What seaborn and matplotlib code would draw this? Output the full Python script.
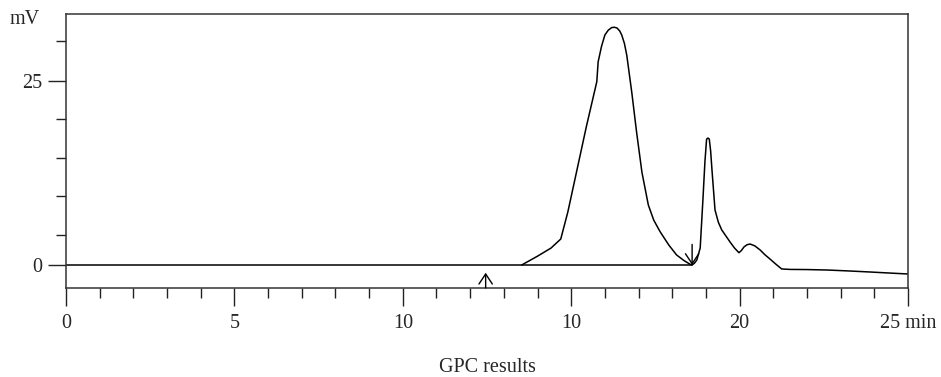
import matplotlib
matplotlib.use("Agg")
import matplotlib.pyplot as plt
from matplotlib.ticker import FixedLocator, MultipleLocator
import seaborn as sns
import pandas as pd

# retention time (min) and detector signal (mV)
time_min = [13.53, 14.0, 14.4, 14.69, 14.9, 15.16, 15.45, 15.76, 15.80, 15.9,
            16.0, 16.1, 16.2, 16.28, 16.36, 16.44, 16.50, 16.58, 16.65, 16.8,
            16.94, 17.1, 17.29, 17.45, 17.64, 17.9, 18.13, 18.35, 18.53, 18.59,
            18.66, 18.73, 18.83, 18.91, 18.97, 19.02, 19.06, 19.10, 19.14,
            19.18, 19.27, 19.37, 19.47, 19.6, 19.72, 19.85, 19.98, 20.05,
            20.13, 20.22, 20.31, 20.45, 20.61, 20.75, 20.90, 21.08, 21.25,
            21.5, 22.0, 22.59, 23.2, 23.87, 24.4, 24.99]
signal_mv = [0.0, 1.2, 2.3, 3.53, 7.2, 12.68, 18.8, 24.9, 27.6, 29.7,
             31.25, 31.9, 32.25, 32.3, 32.2, 31.8, 31.25, 30.1, 28.5, 23.4,
             18.1, 12.6, 8.15, 6.1, 4.52, 2.7, 1.36, 0.6, 0.1, 0.0,
             0.25, 0.68, 2.31, 8.8, 14.0, 17.1, 17.25, 17.1, 15.5,
             12.9, 7.47, 5.8, 4.76, 3.9, 3.1, 2.3, 1.67, 1.95,
             2.45, 2.75, 2.85, 2.6, 2.04, 1.4, 0.82, 0.1, -0.54,
             -0.6, -0.62, -0.68, -0.8, -0.95, -1.08, -1.22]

baseline_t = [0.0, 18.59]
baseline_v = [0.0, 0.0]

arrow_up_t, arrow_up_v = 12.46, [-3.12, -1.05]
arrow_down_t, arrow_down_v = 18.59, [2.8, 0.0]

x_major = [0, 5, 10, 15, 20, 25]
x_labels = ["0", "5", "10", "10", "20", "25 min"]
y_major = [0, 25]
y_labels = ["0", "25"]
y_minor = [4.1, 9.4, 14.5, 19.8, 30.4]

sns.set_style("ticks")
plt.rcParams['font.family'] = ['Liberation Serif', 'DejaVu Serif']

fig = plt.figure(figsize=(9.41, 3.77), dpi=100)
ax = fig.add_axes([66/941, 1-288/377, (908-66)/941, (288-14)/377])

df = pd.DataFrame({"t": time_min, "v": signal_mv})
sns.lineplot(data=df, x="t", y="v", sort=False, estimator=None,
             color="black", lw=1.1, ax=ax)
ax.plot(baseline_t, baseline_v, color="black", lw=1.1)

for at, av in ((arrow_up_t, arrow_up_v), (arrow_down_t, arrow_down_v)):
    ax.annotate("", xy=(at, av[1]), xytext=(at, av[0]),
                arrowprops=dict(arrowstyle="->,head_length=0.45,head_width=0.3",
                                color="black", lw=1.0,
                                mutation_scale=16, shrinkA=0, shrinkB=0))

ax.set_xlim(0, 25)
ax.set_ylim(-3.125, 34.1)

ax.set_xticks(x_major)
ax.set_xticklabels(x_labels)
ax.xaxis.set_minor_locator(MultipleLocator(1))
ax.set_yticks(y_major)
ax.set_yticklabels(y_labels)
ax.yaxis.set_minor_locator(FixedLocator(y_minor))

ax.tick_params(axis="both", which="major", direction="out", length=13,
               width=1.0, labelsize=14.5, color="#222222")
ax.tick_params(axis="both", which="minor", direction="out", length=7.5,
               width=1.0, color="#222222")
ax.tick_params(axis="x", which="major", pad=6)
ax.tick_params(axis="y", which="major", pad=4)

for s in ax.spines.values():
    s.set_linewidth(1.1)
    s.set_color("#333333")

ax.set_xlabel("")
ax.set_ylabel("")
fig.text(487/941, 1-368/377, "GPC results", fontsize=14.5, ha="center", va="center")
fig.text(10/941, 1-20/377, "mV", fontsize=14.5, ha="left", va="center")

fig.savefig("out.png", dpi=100)
